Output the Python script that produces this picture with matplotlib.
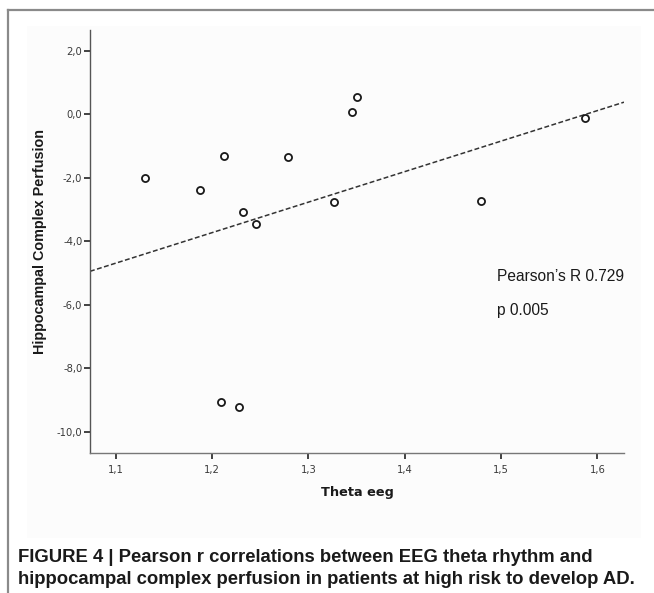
import numpy as np
import matplotlib
matplotlib.use("Agg")
import matplotlib.pyplot as plt
from matplotlib.patches import Rectangle
from matplotlib.lines import Line2D

# ---- data ----
theta_eeg = [1.130, 1.188, 1.212, 1.232, 1.246, 1.279, 1.327, 1.350, 1.345,
             1.479, 1.587, 1.209, 1.228]
perfusion = [-2.00, -2.38, -1.31, -3.08, -3.46, -1.35, -2.77, 0.53, 0.07,
             -2.72, -0.11, -9.07, -9.22]
x_ticks = [1.1, 1.2, 1.3, 1.4, 1.5, 1.6]
x_tick_labels = ["1,1", "1,2", "1,3", "1,4", "1,5", "1,6"]
y_ticks = [2.0, 0.0, -2.0, -4.0, -6.0, -8.0, -10.0]
y_tick_labels = ["2,0", "0,0", "-2,0", "-4,0", "-6,0", "-8,0", "-10,0"]
stats_lines = ["Pearson\u2019s R 0.729", "p 0.005"]
x_label = "Theta eeg"
y_label = "Hippocampal Complex Perfusion"
caption = ["FIGURE 4 | Pearson r correlations between EEG theta rhythm and",
           "hippocampal complex perfusion in patients at high risk to develop AD."]

W, H = 654, 593
fig = plt.figure(figsize=(W / 100, H / 100), dpi=100)
fig.patch.set_facecolor("white")

# faint chart panel + figure frame (top and left rules)
fig.add_artist(Rectangle((27 / W, 1 - 538 / H), 614 / W, 512 / H,
                         transform=fig.transFigure, facecolor="#fcfcfc",
                         edgecolor="none", zorder=0))
fig.add_artist(Line2D([8 / W, 1.0], [1 - 10 / H, 1 - 10 / H],
                      transform=fig.transFigure, color="#8a8a8a", lw=1.6))
fig.add_artist(Line2D([8 / W, 8 / W], [0, 1 - 10 / H],
                      transform=fig.transFigure, color="#8a8a8a", lw=1.6))

ax = fig.add_axes([90 / W, 1 - 453.3 / H, 534 / W, 423.3 / H])
ax.set_facecolor("none")
ax.set_xlim(1.0733, 1.6277)
ax.set_ylim(-10.68, 2.65)

# regression line from data
x = np.array(theta_eeg)
y = np.array(perfusion)
slope, intercept = np.polyfit(x, y, 1)
xl = np.array(ax.get_xlim())
ax.plot(xl, slope * xl + intercept, color="#333333", lw=1.1,
        linestyle=(0, (3.2, 1.6)), zorder=2)

ax.scatter(x, y, s=26, facecolors="white", edgecolors="#1a1a1a",
           linewidths=1.3, zorder=3)

for s in ["top", "right"]:
    ax.spines[s].set_visible(False)
ax.spines["left"].set_color("#555555")
ax.spines["bottom"].set_color("#777777")
ax.spines["left"].set_linewidth(1.0)
ax.spines["bottom"].set_linewidth(1.0)

ax.set_xticks(x_ticks)
ax.set_xticklabels(x_tick_labels)
ax.set_yticks(y_ticks)
ax.set_yticklabels(y_tick_labels)
ax.tick_params(axis="both", direction="out", length=4.5, width=1.3,
               color="#333333", labelsize=7.2, labelcolor="#3a3a3a")
ax.tick_params(axis="x", pad=4)
ax.tick_params(axis="y", pad=1)
for lab in ax.get_xticklabels() + ax.get_yticklabels():
    lab.set_family("DejaVu Sans")

ax.set_xlabel(x_label, fontsize=9.3, fontweight="bold", family="DejaVu Sans",
              color="#1a1a1a", labelpad=8)
ax.set_ylabel(y_label, fontsize=10.4, fontweight="bold", family="Liberation Sans",
              color="#1a1a1a", labelpad=7)

ax.text(497 / W, 1 - 276 / H, stats_lines[0], transform=fig.transFigure,
        fontsize=11.2, family="Liberation Sans", color="#1a1a1a", va="center")
ax.text(497 / W, 1 - 311 / H, stats_lines[1], transform=fig.transFigure,
        fontsize=11.2, family="Liberation Sans", color="#1a1a1a", va="center")

fig.text(18 / W, 1 - 557 / H, caption[0], fontsize=13.3, fontweight="bold",
         family="Liberation Sans", color="#1a1a1a", va="center")
fig.text(18 / W, 1 - 580 / H, caption[1], fontsize=13.3, fontweight="bold",
         family="Liberation Sans", color="#1a1a1a", va="center")

fig.savefig("out.png", dpi=100)
